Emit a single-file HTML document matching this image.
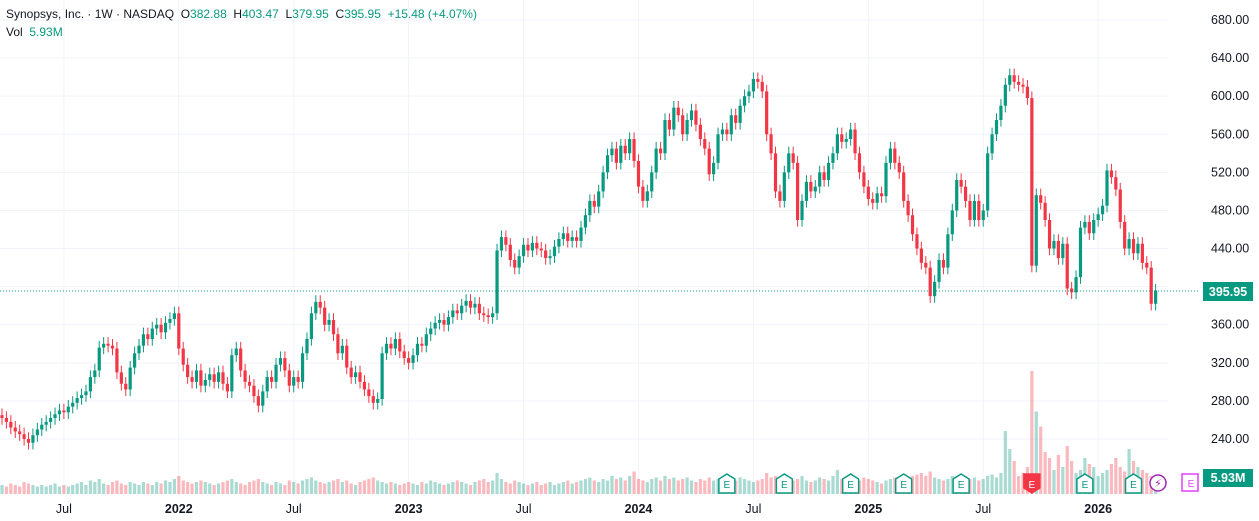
<!DOCTYPE html>
<html><head><meta charset="utf-8">
<style>
body{margin:0;background:#fff;font-family:"Liberation Sans",sans-serif;}
#wrap{position:relative;width:1259px;height:521px;overflow:hidden;}
#legend{position:absolute;left:6px;top:5px;font-size:12px;color:#131722;line-height:18px;}
.g{color:#089981}
</style></head><body>
<div id="wrap">
<svg id="chart" width="1259" height="521"></svg>
<div id="legend">
<div>Synopsys, Inc. · 1W · NASDAQ&nbsp; O<span class="g">382.88</span>&nbsp; H<span class="g">403.47</span>&nbsp; L<span class="g">379.95</span>&nbsp; C<span class="g">395.95</span>&nbsp; <span class="g">+15.48 (+4.07%)</span></div>
<div>Vol&nbsp; <span class="g">5.93M</span></div>
</div>
</div>
<script>
const closes=[262,258,252,248,245,240,236,244,250,255,
258,262,266,270,268,274,278,283,286,290,
305,312,336,340,338,335,310,298,292,315,
330,338,350,345,356,360,352,362,366,372,
335,318,305,300,312,296,302,308,300,310,
298,290,328,335,312,300,296,285,275,290,
305,300,318,325,312,296,305,300,330,345,
372,384,378,360,365,350,330,338,315,305,
310,300,292,285,278,282,330,340,335,345,
332,325,320,328,340,338,350,356,362,365,
360,368,375,372,380,385,378,382,372,370,
368,372,438,452,444,428,420,432,444,438,
446,440,438,430,432,442,450,456,448,452,
448,462,475,490,484,500,520,538,545,530,
548,540,555,532,505,490,500,520,545,540,
575,565,588,580,560,575,585,570,555,545,
518,530,560,565,560,580,572,590,600,605,
618,615,605,560,540,500,490,520,540,530,
470,490,510,500,505,520,512,530,540,560,
552,555,565,540,520,505,492,488,498,495,
530,545,530,520,490,475,455,440,425,420,
390,405,428,420,455,480,512,505,490,470,
490,470,480,540,560,575,590,612,622,615,
612,610,598,422,496,488,470,440,448,430,
445,398,394,410,462,468,456,470,476,485,
522,515,502,468,440,450,435,445,425,420,
382,396];
const volumes=[6,5,7,6,5,8,7,6,5,6,
5,6,7,5,6,5,6,7,8,6,
9,8,10,7,6,8,9,7,6,8,
7,6,8,7,6,8,7,9,8,10,
12,9,8,7,8,9,8,7,6,7,
8,9,10,8,7,6,8,9,10,8,
7,6,8,7,6,9,8,7,9,10,
11,9,8,7,8,9,10,8,9,7,
6,8,9,10,11,9,8,7,8,7,
6,7,8,7,6,8,7,9,8,7,
6,7,8,9,8,7,6,8,9,10,
8,9,14,10,8,7,9,8,7,6,
7,8,6,7,8,6,7,8,9,7,
8,9,10,11,9,8,10,9,12,10,
11,9,12,15,10,9,8,10,11,9,
12,10,11,9,10,11,9,8,10,9,
11,9,10,9,8,10,9,11,10,9,
8,9,10,14,11,12,10,9,8,9,
10,12,9,8,9,11,10,9,12,16,
10,9,8,10,9,11,10,9,8,7,
9,10,11,9,10,11,12,13,14,12,
15,11,10,9,10,12,11,13,12,10,
11,9,10,12,13,11,14,42,30,22,
12,14,18,82,55,45,28,24,16,26,
18,32,22,14,16,24,20,18,12,14,
16,20,24,18,15,30,22,18,16,14,
12,10];
const priceTicks=[680,640,600,560,520,480,440,400,360,320,280,240];
const timeLabels=["Jul","2022","Jul","2023","Jul","2024","Jul","2025","Jul","2026"];
const timeLabelIdx=[14,40,66,92,118,144,170,196,222,248];
const earningsIdx=[164,177,192,204,217,233,245,256];

const NS="http://www.w3.org/2000/svg";
const svg=document.getElementById('chart');
const X0=2,STEP=4.42,BODY=3.2;
const yP=p=>20+(680-p)*(419/440);
const xI=i=>X0+i*STEP;
const VB=494,VS=1.5;
const yV=v=>VB-v*VS;
function mk(t,a){const e=document.createElementNS(NS,t);for(const k in a)e.setAttribute(k,a[k]);svg.appendChild(e);return e;}
priceTicks.forEach(p=>{
  const l=mk('line',{x1:0,x2:1168,y1:yP(p),y2:yP(p),stroke:'#f0f3fa','stroke-width':1});
  
  
  if(p!==400){
  const t=mk('text',{x:1211,y:yP(p)+4,'font-size':12.5,fill:'#131722','font-family':'Liberation Sans, sans-serif'});
  t.textContent=p.toFixed(2);
  
  }
});
timeLabelIdx.forEach((idx,k)=>{
  const x=xI(idx);
  const l=mk('line',{x1:x,x2:x,y1:0,y2:497,stroke:'#f0f3fa','stroke-width':1});
  
  
  const t=mk('text',{x:x,y:513,'font-size':12.5,fill:'#131722','text-anchor':'middle','font-weight':/^\d/.test(timeLabels[k])?'bold':'normal','font-family':'Liberation Sans, sans-serif'});
  t.textContent=timeLabels[k];
  
  
});
closes.forEach((c,i)=>{
  const o=i?closes[i-1]:c;
  const up=c>=o;
  const r=mk('rect',{x:xI(i)-1.6,y:yV(volumes[i]),width:3.2,height:volumes[i]*VS,fill:up?'rgba(8,153,129,0.35)':'rgba(242,54,69,0.35)'});
  
  
});
closes.forEach((c,i)=>{
  const o=i?closes[i-1]:c+3;
  const up=c>=o;const col=up?'#089981':'#f23645';
  const hi=Math.max(o,c)+7,lo=Math.min(o,c)-7;
  const w=mk('line',{x1:xI(i),x2:xI(i),y1:yP(hi),y2:yP(lo),stroke:col,'stroke-width':1});
  
  
  const top=yP(Math.max(o,c)),h=Math.max(1,yP(Math.min(o,c))-top);
  const b=mk('rect',{x:xI(i)-BODY/2,y:top,width:BODY,height:h,fill:col});
  
  
});
earningsIdx.forEach((idx,k)=>{
  const x=xI(idx),red=k===5;
  const col=red?'#f23645':'#089981';
  const g=document.createElementNS(NS,'g');svg.appendChild(g);
  
  
  const pts=red?`${x-8},474 ${x+8},474 ${x+8},488 ${x},493 ${x-8},488`:`${x-8},479 ${x},474 ${x+8},479 ${x+8},493 ${x-8},493`;
  const p=document.createElementNS(NS,'polygon');p.setAttribute('points',pts);p.setAttribute('fill',red?col:'#fff');p.setAttribute('stroke',col);p.setAttribute('stroke-width',1.5);g.appendChild(p);
  const t=document.createElementNS(NS,'text');t.setAttribute('x',x);t.setAttribute('y',488);t.setAttribute('text-anchor','middle');t.setAttribute('font-size',10);t.setAttribute('fill',red?'#fff':col);t.setAttribute('font-family','Liberation Sans, sans-serif');t.textContent='E';g.appendChild(t);
});
</script>
<svg width="1259" height="521" style="position:absolute;left:0;top:0;pointer-events:none">
<line x1="0" x2="1200" y1="291" y2="291" stroke="#089981" stroke-dasharray="1,2"/>
<rect x="1203" y="282" width="50" height="19" fill="#089981"/>
<text x="1228" y="296" fill="#fff" font-size="12.5" font-weight="bold" text-anchor="middle" font-family="Liberation Sans, sans-serif">395.95</text>
<rect x="1203" y="469" width="50" height="18" fill="#089981"/>
<text x="1228" y="482" fill="#fff" font-size="12.5" font-weight="bold" text-anchor="middle" font-family="Liberation Sans, sans-serif">5.93M</text>
<g><circle cx="1158" cy="483" r="8" fill="#fff" stroke="#9c27b0" stroke-width="1.5"/><text x="1158" y="487" font-size="11" fill="#9c27b0" text-anchor="middle" font-family="DejaVu Sans, sans-serif">⚡</text></g>
<g><rect x="1182" y="474" width="16" height="17" fill="#fff" stroke="#e040fb" stroke-width="1.5"/><text x="1191" y="487" font-size="10" fill="#e040fb" text-anchor="middle" font-family="Liberation Sans, sans-serif">E</text></g>
</svg>
</body></html>
